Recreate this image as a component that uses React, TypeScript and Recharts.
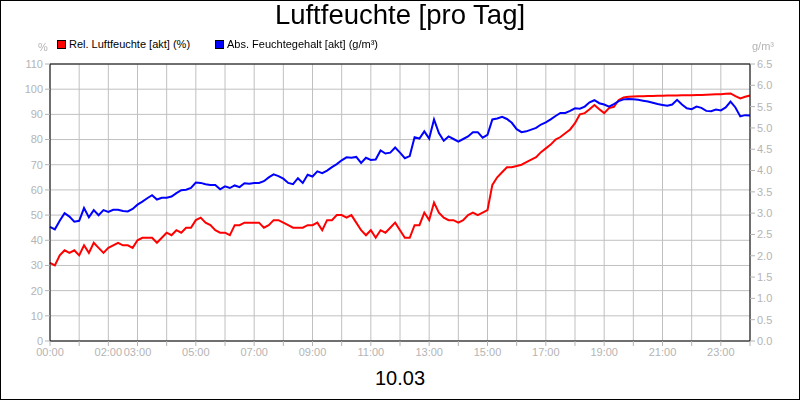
import React from 'react';
import {
    LineChart, Line, XAxis, YAxis, CartesianGrid, ReferenceLine
} from 'recharts';

// Rel. Luftfeuchte (%), one value every 10 minutes, 00:00 .. 24:00
const relHumidity = [
    31, 30, 34, 36, 35, 36, 34, 38, 35, 39, 37, 35, 37,
    38, 39, 38, 38, 37, 40, 41, 41, 41, 39, 41, 43,
    42, 44, 43, 45, 45, 48, 49, 47, 46, 44, 43, 43,
    42, 46, 46, 47, 47, 47, 47, 45, 46, 48, 48, 47,
    46, 45, 45, 45, 46, 46, 47, 44, 48, 48, 50, 50,
    49, 50, 47, 44, 42, 44, 41, 44, 43, 45, 47, 44,
    41, 41, 46, 46, 51, 48, 55, 51, 49, 48, 48, 47,
    48, 50, 51, 50, 51, 52, 62, 65, 67, 69, 69, 69.5,
    70, 71, 72, 73, 75, 76.5, 78, 80, 81, 82.5, 84, 86.5,
    90, 90.5, 92, 93.7, 92, 90.5, 92.5, 93, 95.7, 96.7, 97, 97.1,
    97.2, 97.2, 97.3, 97.3, 97.4, 97.4, 97.5, 97.5, 97.5, 97.6, 97.6, 97.6,
    97.7, 97.7, 97.8, 97.9, 98, 98, 98.2, 98.3, 97.2, 96.3, 97, 97.5,
];

// Abs. Feuchtegehalt (g/m³), same timestamps
const absHumidity = [
    2.68, 2.62, 2.82, 3.0, 2.92, 2.8, 2.82, 3.12, 2.9, 3.07, 2.95, 3.07, 3.03,
    3.08, 3.08, 3.05, 3.04, 3.1, 3.2, 3.27, 3.35, 3.42, 3.32, 3.36, 3.36,
    3.39, 3.47, 3.54, 3.55, 3.59, 3.72, 3.71, 3.68, 3.66, 3.66, 3.56, 3.63,
    3.59, 3.65, 3.61, 3.7, 3.69, 3.71, 3.71, 3.75, 3.84, 3.91, 3.87, 3.81,
    3.71, 3.68, 3.82, 3.71, 3.9, 3.86, 3.98, 3.94, 4.0, 4.08, 4.15, 4.24,
    4.31, 4.3, 4.32, 4.18, 4.3, 4.25, 4.26, 4.47, 4.4, 4.42, 4.54, 4.42,
    4.29, 4.34, 4.78, 4.75, 4.92, 4.75, 5.2, 4.88, 4.7, 4.8, 4.74, 4.68,
    4.74, 4.8, 4.9, 4.9, 4.77, 4.84, 5.2, 5.22, 5.26, 5.21, 5.12, 4.97,
    4.9, 4.92, 4.96, 5.0, 5.08, 5.13, 5.2, 5.28, 5.35, 5.35, 5.4, 5.46,
    5.45, 5.5, 5.6, 5.65, 5.58, 5.55, 5.5, 5.56, 5.63, 5.67, 5.68, 5.67,
    5.66, 5.64, 5.62, 5.59, 5.56, 5.54, 5.52, 5.55, 5.66, 5.55, 5.46, 5.44,
    5.5, 5.47, 5.4, 5.39, 5.43, 5.41, 5.48, 5.62, 5.48, 5.27, 5.3, 5.29,
];

const hourTicks = [0, 1, 2, 3, 4, 5, 6, 7, 8, 9, 10, 11, 12, 13, 14, 15, 16, 17, 18, 19, 20, 21, 22, 23, 24];
const labelledHours = [0, 2, 3, 5, 7, 9, 11, 13, 15, 17, 19, 21, 23];
const leftTicks = [0, 10, 20, 30, 40, 50, 60, 70, 80, 90, 100, 110];
const rightTicks = [0, 0.5, 1, 1.5, 2, 2.5, 3, 3.5, 4, 4.5, 5, 5.5, 6, 6.5];

const data = relHumidity.map((rel, i) => ({ t: i / 6, rel, abs: absHumidity[i] }));

const FONT = '"Liberation Sans", Arial, sans-serif';
const TICK_COLOR = '#b4b4b4';
const GRID_COLOR = '#c0c0c0';

const fmtHour = (h: number) =>
    labelledHours.includes(h) ? `${String(h).padStart(2, '0')}:00` : '';

const LegendBox: React.FC<{ color: string; left: number; text: string }> = ({ color, left, text }) => (
    <div style={{ position: 'absolute', left, top: 38, display: 'flex', alignItems: 'center', fontSize: 11, fontFamily: FONT, color: '#000' }}>
        <span style={{ display: 'inline-block', width: 7, height: 7, background: color, border: '1px solid #000', marginRight: 3 }} />
        {text}
    </div>
);

const App: React.FC = () => {
    return (
        <div style={{ position: 'fixed', left: 0, top: 0, width: 800, height: 400, background: '#fff', fontFamily: FONT }}>
            <LineChart
                width={800}
                height={400}
                data={data}
                margin={{ top: 64, right: 0, bottom: 29, left: 0 }}
            >
                <CartesianGrid stroke={GRID_COLOR} strokeWidth={1} yAxisId="left" />
                <XAxis
                    dataKey="t"
                    type="number"
                    domain={[0, 24]}
                    ticks={hourTicks}
                    interval={0}
                    tickFormatter={fmtHour}
                    height={30}
                    axisLine={{ stroke: '#000' }}
                    tickLine={{ stroke: TICK_COLOR }}
                    tickSize={5}
                    tickMargin={2}
                    tick={{ fill: TICK_COLOR, fontSize: 11, fontFamily: FONT }}
                />
                <YAxis
                    yAxisId="left"
                    domain={[0, 110]}
                    ticks={leftTicks}
                    interval={0}
                    width={50}
                    axisLine={{ stroke: '#000' }}
                    tickLine={{ stroke: TICK_COLOR }}
                    tickSize={5}
                    tickMargin={2}
                    tick={{ fill: TICK_COLOR, fontSize: 11, fontFamily: FONT }}
                />
                <YAxis
                    yAxisId="right"
                    orientation="right"
                    domain={[0, 6.5]}
                    ticks={rightTicks}
                    interval={0}
                    width={50}
                    tickFormatter={(v: number) => v.toFixed(1)}
                    axisLine={{ stroke: '#000' }}
                    tickLine={{ stroke: TICK_COLOR }}
                    tickSize={5}
                    tickMargin={2}
                    tick={{ fill: TICK_COLOR, fontSize: 11, fontFamily: FONT }}
                />
                <ReferenceLine yAxisId="left" y={110} stroke="#000" strokeWidth={1} />
                <Line
                    yAxisId="left"
                    dataKey="rel"
                    type="linear"
                    stroke="#ff0000"
                    strokeWidth={2}
                    dot={false}
                    isAnimationActive={false}
                />
                <Line
                    yAxisId="right"
                    dataKey="abs"
                    type="linear"
                    stroke="#0000ff"
                    strokeWidth={2}
                    dot={false}
                    isAnimationActive={false}
                />
            </LineChart>

            {/* title, legend, units, date */}
            <div style={{ position: 'absolute', left: 0, top: 1, width: 800, textAlign: 'center', fontSize: 27.5, lineHeight: '28px', color: '#000' }}>
                Luftfeuchte [pro Tag]
            </div>
            <LegendBox color="#ff0000" left={57} text="Rel. Luftfeuchte [akt] (%)" />
            <LegendBox color="#0000ff" left={215} text="Abs. Feuchtegehalt [akt] (g/m³)" />
            <div style={{ position: 'absolute', left: 38, top: 41, fontSize: 11, color: TICK_COLOR }}>%</div>
            <div style={{ position: 'absolute', left: 752, top: 40, fontSize: 11, color: TICK_COLOR }}>g/m³</div>
            <div style={{ position: 'absolute', left: 0, top: 367, width: 800, textAlign: 'center', fontSize: 20, color: '#000' }}>
                10.03
            </div>
            <div style={{ position: 'absolute', left: 0, top: 0, width: 800, height: 400, boxSizing: 'border-box', border: '1px solid #000', pointerEvents: 'none' }} />
        </div>
    );
};

export default App;
